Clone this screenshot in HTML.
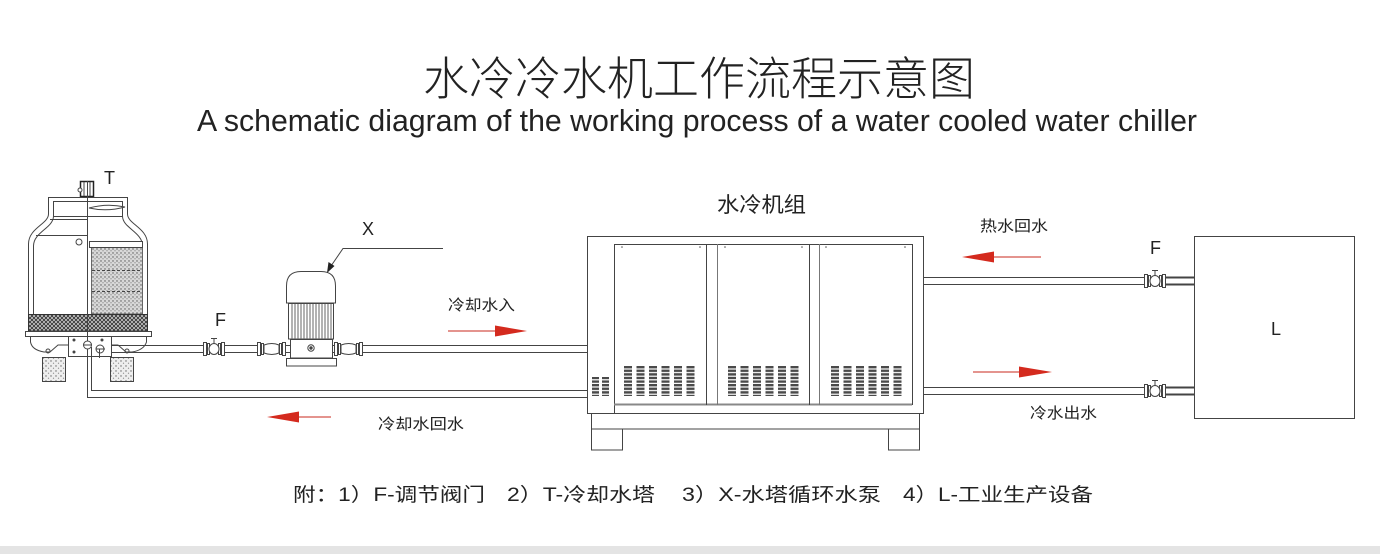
<!DOCTYPE html>
<html><head><meta charset="utf-8">
<style>
html,body{margin:0;padding:0;background:#fff;}
svg{display:block;}
text{font-family:"Liberation Sans","Noto Sans CJK SC",sans-serif;fill:#222;}
</style></head>
<body>
<svg width="1380" height="554" viewBox="0 0 1380 554" xmlns="http://www.w3.org/2000/svg">
<defs>
 <pattern id="dots" width="4" height="4" patternUnits="userSpaceOnUse">
  <rect width="4" height="4" fill="#d8d8d8"/>
  <circle cx="1" cy="1" r="0.7" fill="#555"/>
  <circle cx="3" cy="2.8" r="0.6" fill="#777"/>
 </pattern>
 <pattern id="dots2" width="5" height="5" patternUnits="userSpaceOnUse">
  <rect width="5" height="5" fill="#eee"/>
  <circle cx="1" cy="1" r="0.7" fill="#666"/>
  <circle cx="3.5" cy="3.2" r="0.6" fill="#888"/>
 </pattern>
 <pattern id="xh" width="4" height="4" patternUnits="userSpaceOnUse">
  <rect width="4" height="4" fill="#ccc"/>
  <path d="M0,0 L4,4 M4,0 L0,4" stroke="#333" stroke-width="0.9"/>
 </pattern>
 <pattern id="lv" x="0" y="366" width="8" height="3.6" patternUnits="userSpaceOnUse">
  <rect width="8" height="2.4" fill="#4a4a4a"/>
 </pattern>
</defs>

<!-- Titles -->
<text x="423" y="95" font-size="46" font-weight="300" textLength="552" lengthAdjust="spacingAndGlyphs">水冷冷水机工作流程示意图</text>
<text x="197" y="131" font-size="31" textLength="1000" lengthAdjust="spacingAndGlyphs">A schematic diagram of the working process of a water cooled water chiller</text>

<g stroke="#444" stroke-width="1" fill="none">
 <!-- ===== Cooling tower ===== -->
 <rect x="80.5" y="181.5" width="13" height="15" fill="#fff" stroke="#222" stroke-width="1.5"/>
 <line x1="84" y1="182" x2="84" y2="196"/>
 <line x1="90" y1="182" x2="90" y2="196"/>
 <circle cx="80" cy="190" r="2" fill="#fff"/>
 <line x1="48" y1="197.5" x2="128" y2="197.5"/>
 <line x1="53" y1="201.5" x2="123" y2="201.5"/>
 <path d="M48.5,197 V214 C48.5,224 28.5,228 28.5,244 V314"/>
 <path d="M53.5,201 V216 C53.5,228 33.5,232 33.5,246 V314"/>
 <path d="M127.5,197 V214 C127.5,224 147.5,228 147.5,244 V314"/>
 <path d="M122.5,201 V216 C122.5,228 142.5,232 142.5,246 V314"/>
 <line x1="53" y1="216.5" x2="123" y2="216.5"/>
 <line x1="50" y1="219.5" x2="87" y2="219.5"/>
 <line x1="36" y1="235.5" x2="87" y2="235.5"/>
 <path d="M89,208 Q107,203 125,207 Q107,212 89,208 Z" fill="#fff"/>
 <circle cx="79" cy="242" r="3"/>
 <rect x="91.5" y="247.5" width="51" height="66.5" fill="url(#dots)" stroke="#666"/>
 <rect x="89.5" y="241.5" width="53" height="6" fill="#fff"/>
 <line x1="92" y1="270.5" x2="142" y2="270.5" stroke-dasharray="3,2"/>
 <line x1="92" y1="291.5" x2="142" y2="291.5" stroke-dasharray="3,2"/>
 <rect x="28.5" y="314.5" width="119" height="16.5" fill="url(#xh)" stroke="#333"/>
 <rect x="25.5" y="331.5" width="126" height="5" fill="#fff"/>
 <path d="M30.5,336 V342 Q32,350 44,352 H50 L58,345 H68"/>
 <path d="M146.5,336 V342 Q144,350 132,352 H126 L118,345 H112"/>
 <rect x="68.5" y="336.5" width="43" height="20" fill="#fff"/>
 <circle cx="48" cy="351" r="2"/>
 <circle cx="127" cy="351" r="2"/>
 <circle cx="74" cy="340" r="1" fill="#444"/>
 <circle cx="74" cy="352" r="1" fill="#444"/>
 <circle cx="102" cy="340" r="1" fill="#444"/>
 <rect x="42.5" y="357.5" width="23" height="24" fill="url(#dots2)"/>
 <rect x="110.5" y="357.5" width="23" height="24" fill="url(#dots2)"/>
 <!-- center line / return pipe -->
 <path d="M87.5,181 V397.5 H587"/>
 <path d="M91.5,347 V390.5 H587"/>
 <circle cx="87.5" cy="345" r="4" fill="#fff"/>
 <line x1="83" y1="345" x2="92" y2="345"/>
 <circle cx="100" cy="349" r="4" fill="#fff"/>
 <line x1="96" y1="349" x2="105" y2="349"/>
 <line x1="99.5" y1="349" x2="99.5" y2="358"/>

 <!-- supply pipe -->
 <line x1="112" y1="345.5" x2="587" y2="345.5"/>
 <line x1="112" y1="352.5" x2="587" y2="352.5"/>

 <!-- valve F left -->
 <g fill="#fff">
  <rect x="203.5" y="342.5" width="3" height="13"/>
  <rect x="207.5" y="343.5" width="2" height="11"/>
  <rect x="218.5" y="343.5" width="2" height="11"/>
  <rect x="221.5" y="342.5" width="3" height="13"/>
  <ellipse cx="214" cy="349" rx="5" ry="5.5"/>
 </g>
 <line x1="214" y1="338" x2="214" y2="343.5"/>
 <line x1="211" y1="338.5" x2="217" y2="338.5"/>

 <!-- pump left fitting -->
 <g fill="#fff">
  <rect x="257.5" y="342.5" width="3" height="13"/>
  <rect x="261.5" y="343.5" width="2" height="11"/>
  <path d="M264,345 Q272,342 279,345 V353 Q272,356 264,353 Z"/>
  <rect x="279.5" y="343.5" width="2" height="11"/>
  <rect x="282.5" y="342.5" width="3" height="13"/>
  <!-- right fitting -->
  <rect x="334.5" y="342.5" width="3" height="13"/>
  <rect x="338.5" y="343.5" width="2" height="11"/>
  <path d="M341,345 Q349,342 356,345 V353 Q349,356 341,353 Z"/>
  <rect x="356.5" y="343.5" width="2" height="11"/>
  <rect x="359.5" y="342.5" width="3" height="13"/>
 </g>
 <!-- pump -->
 <path d="M286.5,303 V286 Q286.5,271.5 301,271.5 H321 Q335.5,271.5 335.5,286 V303 Z" fill="#fff"/>
 <rect x="288.5" y="303.5" width="45" height="35.5" fill="#fff"/>
 <path d="M292,304V339M295,304V339M298,304V339M301,304V339M304,304V339M307,304V339M310,304V339M313,304V339M316,304V339M319,304V339M322,304V339M325,304V339M328,304V339M331,304V339" stroke="#666"/>
 <rect x="290.5" y="339.5" width="42" height="18.5" fill="#fff"/>
 <circle cx="311" cy="348" r="3.2"/>
 <circle cx="311" cy="348" r="1.2" fill="#444"/>
 <rect x="286.5" y="358.5" width="50" height="7.5" fill="#fff"/>
 <!-- leader X -->
 <polyline points="443,248.5 343,248.5 331,266"/>
</g>
<polygon points="327,273 328.5,262 334.5,266" fill="#222"/>

<!-- ===== Chiller ===== -->
<g stroke="#444" stroke-width="1" fill="none">
 <rect x="587.5" y="236.5" width="336" height="177"/>
 <line x1="614.5" y1="244" x2="614.5" y2="413"/>
 <line x1="614" y1="244.5" x2="912" y2="244.5"/>
 <line x1="912.5" y1="244" x2="912.5" y2="405"/>
 <line x1="614" y1="404.5" x2="912" y2="404.5" stroke="#888" stroke-width="2"/>
 <line x1="706.5" y1="244" x2="706.5" y2="405"/>
 <line x1="717.5" y1="244" x2="717.5" y2="405" stroke="#777"/>
 <line x1="809.5" y1="244" x2="809.5" y2="405"/>
 <line x1="819.5" y1="244" x2="819.5" y2="405" stroke="#777"/>
 <rect x="591.5" y="413.5" width="328" height="15.5"/>
 <rect x="591.5" y="429" width="31" height="21"/>
 <rect x="888.5" y="429" width="31" height="21"/>
</g>
<g fill="#555">
 <circle cx="622" cy="247" r="0.8"/><circle cx="700" cy="247" r="0.8"/>
 <circle cx="725" cy="247" r="0.8"/><circle cx="802" cy="247" r="0.8"/>
 <circle cx="826" cy="247" r="0.8"/><circle cx="905" cy="247" r="0.8"/>
</g>
<g fill="url(#lv)">
 <rect x="624" y="366" width="8" height="30"/><rect x="636.5" y="366" width="8" height="30"/>
 <rect x="649" y="366" width="8" height="30"/><rect x="661.5" y="366" width="8" height="30"/>
 <rect x="674" y="366" width="8" height="30"/><rect x="686.5" y="366" width="8" height="30"/>
 <rect x="728" y="366" width="8" height="30"/><rect x="740.5" y="366" width="8" height="30"/>
 <rect x="753" y="366" width="8" height="30"/><rect x="765.5" y="366" width="8" height="30"/>
 <rect x="778" y="366" width="8" height="30"/><rect x="790.5" y="366" width="8" height="30"/>
 <rect x="831" y="366" width="8" height="30"/><rect x="843.5" y="366" width="8" height="30"/>
 <rect x="856" y="366" width="8" height="30"/><rect x="868.5" y="366" width="8" height="30"/>
 <rect x="881" y="366" width="8" height="30"/><rect x="893.5" y="366" width="8" height="30"/>
 <rect x="592" y="377" width="7" height="19"/><rect x="602" y="377" width="7" height="19"/>
</g>

<!-- ===== Right side pipes ===== -->
<g stroke="#444" stroke-width="1" fill="none">
 <line x1="923" y1="277.5" x2="1145" y2="277.5"/>
 <line x1="923" y1="284.5" x2="1145" y2="284.5"/>
 <line x1="923" y1="387.5" x2="1145" y2="387.5"/>
 <line x1="923" y1="394.5" x2="1145" y2="394.5"/>
 <line x1="1166" y1="277.5" x2="1194" y2="277.5" stroke-width="2"/>
 <line x1="1166" y1="284.5" x2="1194" y2="284.5" stroke-width="2"/>
 <line x1="1166" y1="387.5" x2="1194" y2="387.5" stroke-width="2"/>
 <line x1="1166" y1="394.5" x2="1194" y2="394.5" stroke-width="2"/>
 <g fill="#fff">
  <rect x="1144.5" y="274.5" width="3" height="13"/>
  <rect x="1148.5" y="275.5" width="2" height="11"/>
  <rect x="1159.5" y="275.5" width="2" height="11"/>
  <rect x="1162.5" y="274.5" width="3" height="13"/>
  <ellipse cx="1155" cy="281" rx="5" ry="5.5"/>
  <rect x="1144.5" y="384.5" width="3" height="13"/>
  <rect x="1148.5" y="385.5" width="2" height="11"/>
  <rect x="1159.5" y="385.5" width="2" height="11"/>
  <rect x="1162.5" y="384.5" width="3" height="13"/>
  <ellipse cx="1155" cy="391" rx="5" ry="5.5"/>
 </g>
 <line x1="1155" y1="270" x2="1155" y2="275.5"/>
 <line x1="1152" y1="270.5" x2="1158" y2="270.5"/>
 <line x1="1155" y1="380" x2="1155" y2="385.5"/>
 <line x1="1152" y1="380.5" x2="1158" y2="380.5"/>
 <rect x="1194.5" y="236.5" width="160" height="182"/>
</g>

<!-- ===== Red arrows ===== -->
<g stroke="#c8281e" stroke-width="1">
 <line x1="448" y1="331" x2="496" y2="331"/>
 <line x1="298" y1="417" x2="331" y2="417"/>
 <line x1="993" y1="257" x2="1041" y2="257"/>
 <line x1="973" y1="372" x2="1020" y2="372"/>
</g>
<g fill="#d42a1e">
 <polygon points="495,325.5 527,331 495,336.5"/>
 <polygon points="299,411.5 267,417 299,422.5"/>
 <polygon points="994,251.5 962,257 994,262.5"/>
 <polygon points="1019,366.5 1052,372 1019,377.5"/>
</g>

<!-- ===== Labels ===== -->
<text x="104" y="184" font-size="18" font-weight="300">T</text>
<text x="362" y="235" font-size="18" font-weight="300">X</text>
<text x="215" y="326" font-size="18" font-weight="300">F</text>
<text x="1150" y="254" font-size="18" font-weight="300">F</text>
<text x="1271" y="335" font-size="18" font-weight="300">L</text>
<text x="717" y="212" font-size="21" textLength="89" lengthAdjust="spacingAndGlyphs">水冷机组</text>
<text x="448" y="310" font-size="15" textLength="67" lengthAdjust="spacingAndGlyphs">冷却水入</text>
<text x="378" y="429" font-size="15" textLength="86" lengthAdjust="spacingAndGlyphs">冷却水回水</text>
<text x="980" y="231" font-size="15" textLength="68" lengthAdjust="spacingAndGlyphs">热水回水</text>
<text x="1030" y="418" font-size="15" textLength="67" lengthAdjust="spacingAndGlyphs">冷水出水</text>

<!-- Legend -->
<text x="293" y="501" font-size="19" textLength="192" lengthAdjust="spacingAndGlyphs">附：1）F-调节阀门</text>
<text x="507" y="501" font-size="19" textLength="148" lengthAdjust="spacingAndGlyphs">2）T-冷却水塔</text>
<text x="682" y="501" font-size="19" textLength="199" lengthAdjust="spacingAndGlyphs">3）X-水塔循环水泵</text>
<text x="903" y="501" font-size="19" textLength="190" lengthAdjust="spacingAndGlyphs">4）L-工业生产设备</text>

<rect x="0" y="546" width="1380" height="8" fill="#e4e4e4"/>
</svg>
</body></html>
